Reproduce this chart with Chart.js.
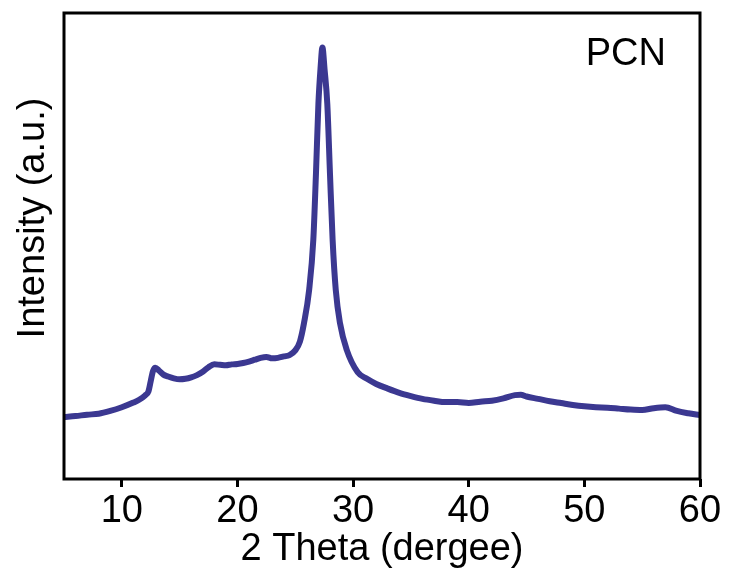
<!DOCTYPE html>
<html>
<head>
<meta charset="utf-8">
<script src="https://cdn.jsdelivr.net/npm/chart.js@4.4.1/dist/chart.umd.min.js"></script>
<style>
html,body{margin:0;padding:0;background:#fff;}
#wrap{width:729px;height:574px;}
</style>
</head>
<body>
<div id="wrap"><canvas id="c" width="729" height="574"></canvas></div>
<script>
const twoTheta = [5,6,7,8,9,10,11,11.5,12,12.3,12.5,12.7,12.9,13.2,13.6,14,14.5,15,15.5,16,16.5,17,17.5,18,18.5,19,19.5,20,20.5,21,21.5,22,22.5,23,23.5,24,24.5,25,25.4,25.75,26.2,26.56,26.79,27.0,27.18,27.35,27.53,27.77,28.0,28.23,28.5,28.87,29.45,30.4,31.2,32,33,34,35,36,37,38,39,40,41,42,43,44,44.5,45,46,47,48,49,50,51,52,53,54,55,56,57,58,59,60];
const intensity = [13.3,13.5,13.8,14.0,14.6,15.4,16.4,17.0,17.9,18.8,21.0,23.2,23.9,23.3,22.4,22.0,21.6,21.4,21.5,21.8,22.3,23.0,24.0,24.6,24.5,24.4,24.6,24.7,24.9,25.2,25.6,26.0,26.2,25.9,26.0,26.3,26.6,27.6,29.5,33.4,40.6,51.3,65.6,80.5,88,92.6,88,80.5,65.6,51.3,40.6,33.4,27.7,22.9,21.5,20.4,19.4,18.5,17.8,17.2,16.8,16.5,16.5,16.3,16.6,16.8,17.3,18.0,18.1,17.7,17.2,16.7,16.3,15.9,15.6,15.4,15.3,15.1,14.9,14.8,15.2,15.4,14.6,14.1,13.7];
const xTicks = [10,20,30,40,50,60];
const sampleLabel = "PCN";
const xTitle = "2 Theta (dergee)";
const yTitle = "Intensity (a.u.)";

const points = twoTheta.map((x,i)=>({x:x,y:intensity[i]}));
const FONT = "'Liberation Sans', Arial, sans-serif";

const framePlugin = {
  id:'frame',
  afterDraw(chart){
    const {ctx, chartArea:a} = chart;
    ctx.save();
    ctx.strokeStyle = '#000';
    ctx.lineWidth = 3;
    ctx.strokeRect(a.left, a.top, a.right - a.left, a.bottom - a.top);
    ctx.fillStyle = '#000';
    ctx.font = '38px ' + FONT;
    ctx.textAlign = 'right';
    ctx.textBaseline = 'alphabetic';
    ctx.fillText(sampleLabel, a.right - 34, a.top + 52);
    // y axis title
    ctx.translate(34, 218);
    ctx.rotate(-Math.PI/2);
    ctx.textAlign = 'center';
    ctx.textBaseline = 'middle';
    ctx.fillText(yTitle, 0, 0);
    ctx.restore();
  }
};

new Chart(document.getElementById('c'), {
  type:'line',
  data:{datasets:[{data:points, borderColor:'#3b3891', borderWidth:6, pointRadius:0, cubicInterpolationMode:'monotone', fill:false}]},
  options:{
    responsive:false, animation:false,
    layout:{padding:{top:13,right:29,left:0,bottom:0}},
    plugins:{legend:{display:false}, tooltip:{enabled:false}},
    scales:{
      x:{type:'linear', min:5, max:60,
        afterBuildTicks(s){ s.ticks = xTicks.map(v=>({value:v})); },
        grid:{drawOnChartArea:false, drawTicks:true, tickLength:8, color:'#000', lineWidth:3},
        border:{display:false},
        ticks:{color:'#000', font:{family:FONT, size:38}, padding:2, maxRotation:0},
        title:{display:true, text:xTitle, color:'#000', font:{family:FONT, size:38}, padding:{top:0,bottom:2}},
        afterFit(s){ s.height = 574 - 479; }
      },
      y:{min:0, max:100,
        grid:{display:false}, border:{display:false},
        ticks:{display:false},
        title:{display:false},
        afterFit(s){ s.width = 64; }
      }
    }
  },
  plugins:[framePlugin]
});
</script>
</body>
</html>
